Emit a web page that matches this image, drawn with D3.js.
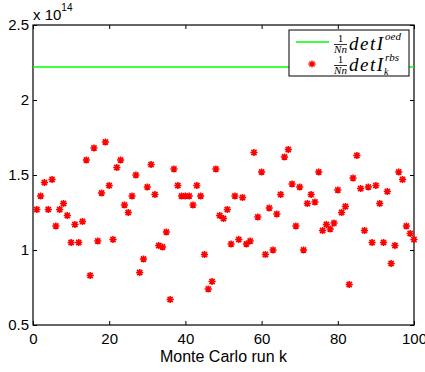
<!DOCTYPE html>
<html>
<head>
<meta charset="utf-8">
<script src="https://cdn.jsdelivr.net/npm/d3@7"></script>
<style>
  body { margin: 0; background: #fff; }
  svg { display: block; }
</style>
</head>
<body>
<div id="chart"></div>
<script>
const w = 425,
h = 372,
m = {top: 25, right: 11, bottom: 47, left: 33};

// values in units of 1e14
const oedValue = 2.22;
const rbsValues = [
  1.27, 1.36, 1.45, 1.27, 1.47, 1.16, 1.27, 1.31, 1.23, 1.05,
  1.17, 1.05, 1.19, 1.60, 0.83, 1.68, 1.06, 1.38, 1.72, 1.43,
  1.07, 1.55, 1.60, 1.30, 1.25, 1.36, 1.50, 0.85, 0.94, 1.42,
  1.57, 1.37, 1.03, 1.02, 1.12, 0.67, 1.54, 1.43, 1.36, 1.36,
  1.36, 1.30, 1.43, 1.36, 0.97, 0.74, 0.79, 1.54, 1.23, 1.21,
  1.27, 1.04, 1.36, 1.07, 1.35, 1.04, 1.06, 1.65, 1.22, 1.52,
  0.97, 1.28, 1.00, 1.24, 1.37, 1.62, 1.67, 1.44, 1.16, 1.42,
  1.00, 1.31, 1.37, 1.32, 1.52, 1.13, 1.17, 1.14, 1.18, 1.40,
  1.25, 1.29, 0.77, 1.48, 1.63, 1.41, 1.13, 1.42, 1.05, 1.43,
  1.31, 1.05, 1.39, 0.91, 1.03, 1.52, 1.47, 1.16, 1.11, 1.07
];
const runs = rbsValues.map((d, i) => i + 1);
const xTicks = [0, 20, 40, 60, 80, 100];
const yTicks = [0.5, 1, 1.5, 2, 2.5];

const svg = d3.select("#chart")
    .append("svg")
    .attr("width", w)
    .attr("height", h)
    .style("font-family", "'Liberation Sans', Arial, sans-serif");

let x = d3.scaleLinear([0, 100], [m.left, w - m.right]);
let y = d3.scaleLinear([0.5, 2.5], [h - m.bottom, m.top]);

// axes, ticks point inward like matlab
svg.append("g")
    .attr("transform", `translate(0,${h - m.bottom})`)
    .call(d3.axisBottom(x).tickValues(xTicks).tickSizeInner(-4).tickSizeOuter(0).tickPadding(8))
    .call(g => g.select(".domain").remove())
    .call(g => g.selectAll("text").style("font-size", "15px").attr("fill", "#000"));

svg.append("g")
    .attr("transform", `translate(${m.left},0)`)
    .call(d3.axisLeft(y).tickValues(yTicks).tickFormat(d => d).tickSizeInner(-4).tickSizeOuter(0).tickPadding(4))
    .call(g => g.select(".domain").remove())
    .call(g => g.selectAll("text").style("font-size", "15px").attr("fill", "#000"));

svg.append("g")
    .attr("transform", `translate(0,${m.top})`)
    .call(d3.axisTop(x).tickValues(xTicks).tickSizeInner(-4).tickSizeOuter(0).tickFormat(""))
    .call(g => g.select(".domain").remove());

svg.append("g")
    .attr("transform", `translate(${w - m.right},0)`)
    .call(d3.axisRight(y).tickValues(yTicks).tickSizeInner(-4).tickSizeOuter(0).tickFormat(""))
    .call(g => g.select(".domain").remove());

svg.append("rect")
    .attr("x", m.left).attr("y", m.top)
    .attr("width", w - m.left - m.right).attr("height", h - m.top - m.bottom)
    .attr("fill", "none").attr("stroke", "#000").attr("stroke-width", 1.2);

// exponent label
const expo = svg.append("text").attr("x", 33).attr("y", 20).style("font-size", "15px");
expo.append("tspan").text("x 10");
expo.append("tspan").attr("dy", -9).style("font-size", "10px").text("14");

svg.append("text")
    .attr("x", (m.left + w - m.right) / 2)
    .attr("y", 362)
    .attr("text-anchor", "middle")
    .style("font-size", "16px")
    .text("Monte Carlo run k");

// green line
svg.append("line")
    .attr("x1", x(0)).attr("x2", x(100))
    .attr("y1", y(oedValue)).attr("y2", y(oedValue))
    .attr("stroke", "#00ff00").attr("stroke-width", 1.6);

// asterisk marker (+ and x)
const r = 3.6, rd = r * 0.72;
const star = `M${-r},0H${r}M0,${-r}V${r}M${-rd},${-rd}L${rd},${rd}M${-rd},${rd}L${rd},${-rd}`;

svg.append("g")
    .selectAll("path")
    .data(rbsValues)
    .join("path")
    .attr("transform", (d, i) => `translate(${x(runs[i])},${y(d)})`)
    .attr("d", star)
    .attr("fill", "none")
    .attr("stroke", "#ff0000")
    .attr("stroke-width", 1.6);

// legend
const lg = svg.append("g");
lg.append("rect").attr("x", 289).attr("y", 30).attr("width", 120).attr("height", 46)
    .attr("fill", "#fff").attr("stroke", "#000").attr("stroke-width", 1);
lg.append("line").attr("x1", 296).attr("x2", 329).attr("y1", 42).attr("y2", 42)
    .attr("stroke", "#00ff00").attr("stroke-width", 1.6);
lg.append("path").attr("transform", "translate(312,64)").attr("d", star)
    .attr("fill", "none").attr("stroke", "#ff0000").attr("stroke-width", 1.4);

const serif = "'Liberation Serif', 'DejaVu Serif', serif";

function frac(g, cy) {
    g.append("text").attr("x", 340.5).attr("y", cy - 2.5).attr("text-anchor", "middle")
        .style("font-family", serif).style("font-size", "11px").text("1");
    g.append("line").attr("x1", 334).attr("x2", 347).attr("y1", cy).attr("y2", cy)
        .attr("stroke", "#000").attr("stroke-width", 0.8);
    g.append("text").attr("x", 340.5).attr("y", cy + 8).attr("text-anchor", "middle")
        .style("font-family", serif).style("font-style", "italic")
        .style("font-size", "11px").text("Nn");
}
frac(lg, 44.5);
frac(lg, 65.5);

function detText(g, yy, sup, sub) {
    const t = g.append("text").attr("x", 349).attr("y", yy)
        .style("font-family", serif).style("font-style", "italic").style("font-size", "19px");
    t.append("tspan").style("letter-spacing", "1.5px").text("det");
    t.append("tspan").text("I");
    const sx = 385;
    g.append("text").attr("x", sx).attr("y", yy - 10)
        .style("font-family", serif).style("font-style", "italic").style("font-size", "11px").text(sup);
    if (sub) g.append("text").attr("x", sx - 1).attr("y", yy + 4)
        .style("font-family", serif).style("font-style", "italic").style("font-size", "10px").text(sub);
}
detText(lg, 50, "oed");
detText(lg, 71, "rbs", "k");
</script>
</body>
</html>
